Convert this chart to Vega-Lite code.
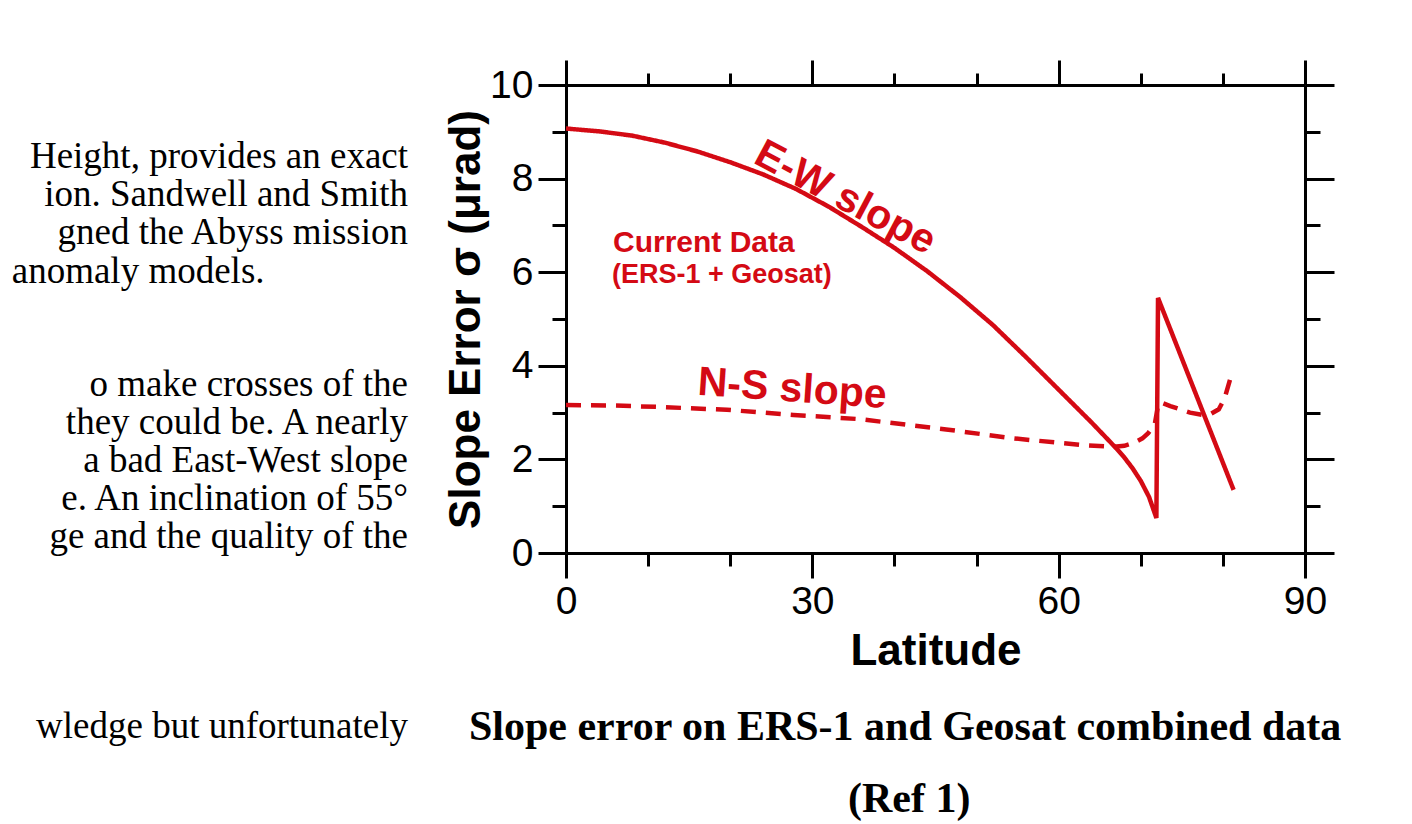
{
  "$schema": "https://vega.github.io/schema/vega-lite/v6.json",
  "width": 739,
  "height": 468,
  "autosize": {"type": "none"},
  "padding": {"left": 566, "top": 85, "right": 107, "bottom": 271},
  "background": "white",
  "config": {"view": {"stroke": null}, "font": "Liberation Sans"},
  "datasets": {
    "curves": [
      {"series": "E-W slope", "lat": 0, "err": 9.07},
      {"series": "E-W slope", "lat": 4, "err": 9.01},
      {"series": "E-W slope", "lat": 8, "err": 8.92},
      {"series": "E-W slope", "lat": 12, "err": 8.77},
      {"series": "E-W slope", "lat": 16, "err": 8.58},
      {"series": "E-W slope", "lat": 20, "err": 8.35},
      {"series": "E-W slope", "lat": 24, "err": 8.09},
      {"series": "E-W slope", "lat": 28, "err": 7.78},
      {"series": "E-W slope", "lat": 32, "err": 7.4},
      {"series": "E-W slope", "lat": 36, "err": 6.97},
      {"series": "E-W slope", "lat": 40, "err": 6.52},
      {"series": "E-W slope", "lat": 44, "err": 6.02},
      {"series": "E-W slope", "lat": 48, "err": 5.47},
      {"series": "E-W slope", "lat": 52, "err": 4.87},
      {"series": "E-W slope", "lat": 56, "err": 4.19},
      {"series": "E-W slope", "lat": 60, "err": 3.49},
      {"series": "E-W slope", "lat": 64, "err": 2.79},
      {"series": "E-W slope", "lat": 67, "err": 2.24},
      {"series": "E-W slope", "lat": 68, "err": 2.04},
      {"series": "E-W slope", "lat": 69, "err": 1.81},
      {"series": "E-W slope", "lat": 70, "err": 1.54},
      {"series": "E-W slope", "lat": 71, "err": 1.2},
      {"series": "E-W slope", "lat": 71.9, "err": 0.75},
      {"series": "E-W slope", "lat": 72.1, "err": 5.45},
      {"series": "E-W slope", "lat": 81.3, "err": 1.35},
      {"series": "N-S slope", "lat": 0, "err": 3.16},
      {"series": "N-S slope", "lat": 6, "err": 3.15},
      {"series": "N-S slope", "lat": 11.4, "err": 3.12},
      {"series": "N-S slope", "lat": 19.6, "err": 3.06},
      {"series": "N-S slope", "lat": 27.7, "err": 2.95},
      {"series": "N-S slope", "lat": 35.8, "err": 2.86},
      {"series": "N-S slope", "lat": 41.5, "err": 2.74},
      {"series": "N-S slope", "lat": 46.3, "err": 2.64},
      {"series": "N-S slope", "lat": 54.5, "err": 2.45},
      {"series": "N-S slope", "lat": 62.6, "err": 2.31},
      {"series": "N-S slope", "lat": 66.6, "err": 2.27},
      {"series": "N-S slope", "lat": 68, "err": 2.29},
      {"series": "N-S slope", "lat": 69.1, "err": 2.35},
      {"series": "N-S slope", "lat": 70.2, "err": 2.45},
      {"series": "N-S slope", "lat": 70.9, "err": 2.56},
      {"series": "N-S slope", "lat": 71.7, "err": 2.75},
      {"series": "N-S slope", "lat": 72.1, "err": 3.15},
      {"series": "N-S slope", "lat": 72.4, "err": 3.22},
      {"series": "N-S slope", "lat": 73.6, "err": 3.14},
      {"series": "N-S slope", "lat": 76, "err": 3.0},
      {"series": "N-S slope", "lat": 77.5, "err": 2.95},
      {"series": "N-S slope", "lat": 78.5, "err": 2.97},
      {"series": "N-S slope", "lat": 79.5, "err": 3.07},
      {"series": "N-S slope", "lat": 80.2, "err": 3.3},
      {"series": "N-S slope", "lat": 80.9, "err": 3.72}
    ],
    "notes": [
      {"lat": 22.65, "err": 8.35, "text": "E-W slope"},
      {"lat": 15.96, "err": 3.38, "text": "N-S slope"},
      {"lat": 5.72, "err": 6.43, "text": "Current Data"},
      {"lat": 5.6, "err": 5.76, "text": "(ERS-1 + Geosat)"}
    ],
    "body": [
      {"lat": -19.24, "err": 8.46, "text": "Height, provides an exact"},
      {"lat": -19.24, "err": 7.65, "text": "ion. Sandwell and Smith"},
      {"lat": -19.24, "err": 6.84, "text": "gned the Abyss mission"},
      {"lat": -19.24, "err": 3.59, "text": "o make crosses of the"},
      {"lat": -19.24, "err": 2.78, "text": "they could be. A nearly"},
      {"lat": -19.24, "err": 1.97, "text": "a bad East-West slope"},
      {"lat": -19.24, "err": 1.15, "text": "e. An inclination of 55°"},
      {"lat": -19.24, "err": 0.34, "text": "ge and the quality of the"},
      {"lat": -19.24, "err": -3.72, "text": "wledge but unfortunately"}
    ],
    "bodyLeft": [
      {"lat": -67.5, "err": 6.0, "text": "anomaly models."}
    ],
    "caption": [
      {"lat": 41.3, "err": -3.72, "text": "Slope error on ERS-1 and Geosat combined data"},
      {"lat": 41.8, "err": -5.26, "text": "(Ref 1)"}
    ]
  },
  "layer": [
    {
      "encoding": {
        "x": {
          "field": "lat",
          "type": "quantitative",
          "title": "Latitude",
          "scale": {"domain": [0, 90], "nice": false, "zero": false},
          "axis": {
            "orient": "bottom",
            "values": [0, 10, 20, 30, 40, 50, 60, 70, 80, 90],
            "labelExpr": "datum.value % 30 === 0 ? datum.label : ''",
            "tickSize": {"condition": {"test": "datum.value % 30 === 0", "value": 25}, "value": 13},
            "tickWidth": 3,
            "tickColor": "black",
            "domainWidth": 3,
            "domainColor": "black",
            "grid": false,
            "labelFont": "Liberation Sans",
            "labelFontSize": 39,
            "labelColor": "black",
            "labelPadding": 4,
            "labelFlush": false,
            "labelOverlap": false,
            "titleFont": "Liberation Sans",
            "titleFontSize": 44,
            "titleFontWeight": "bold",
            "titleColor": "black",
            "titlePadding": 8
          }
        },
        "y": {
          "field": "err",
          "type": "quantitative",
          "title": "Slope Error σ (μrad)",
          "scale": {"domain": [0, 10], "nice": false, "zero": false},
          "axis": {
            "orient": "left",
            "values": [0, 1, 2, 3, 4, 5, 6, 7, 8, 9, 10],
            "labelExpr": "datum.value % 2 === 0 ? datum.label : ''",
            "tickSize": {"condition": {"test": "datum.value % 2 === 0", "value": 28}, "value": 14},
            "tickWidth": 3,
            "tickColor": "black",
            "domainWidth": 3,
            "domainColor": "black",
            "grid": false,
            "labelFont": "Liberation Sans",
            "labelFontSize": 39,
            "labelColor": "black",
            "labelPadding": 5,
            "labelFlush": false,
            "labelOverlap": false,
            "titleFont": "Liberation Sans",
            "titleFontSize": 44,
            "titleFontWeight": "bold",
            "titleColor": "black",
            "titlePadding": 1
          }
        }
      },
      "layer": [
        {
          "data": {"name": "curves"},
          "mark": {"type": "line", "color": "#d40a14", "strokeWidth": 4.5, "strokeCap": "butt", "strokeJoin": "miter"},
          "encoding": {
            "detail": {"field": "series", "type": "nominal"},
            "strokeDash": {
              "field": "series",
              "type": "nominal",
              "scale": {"domain": ["E-W slope", "N-S slope"], "range": [[1, 0], [15, 10]]},
              "legend": null
            }
          }
        },
        {
          "data": {"name": "notes"},
          "transform": [{"filter": "datum.text === 'E-W slope'"}],
          "mark": {"type": "text", "align": "left", "baseline": "alphabetic", "angle": 28, "fontSize": 41, "fontWeight": "bold", "font": "Liberation Sans", "color": "#d40a14"},
          "encoding": {"text": {"field": "text"}}
        },
        {
          "data": {"name": "notes"},
          "transform": [{"filter": "datum.text === 'N-S slope'"}],
          "mark": {"type": "text", "align": "left", "baseline": "alphabetic", "angle": 4, "fontSize": 41, "fontWeight": "bold", "font": "Liberation Sans", "color": "#d40a14"},
          "encoding": {"text": {"field": "text"}}
        },
        {
          "data": {"name": "notes"},
          "transform": [{"filter": "datum.text === 'Current Data'"}],
          "mark": {"type": "text", "align": "left", "baseline": "alphabetic", "fontSize": 30, "fontWeight": "bold", "font": "Liberation Sans", "color": "#d40a14"},
          "encoding": {"text": {"field": "text"}}
        },
        {
          "data": {"name": "notes"},
          "transform": [{"filter": "datum.text === '(ERS-1 + Geosat)'"}],
          "mark": {"type": "text", "align": "left", "baseline": "alphabetic", "fontSize": 27, "fontWeight": "bold", "font": "Liberation Sans", "color": "#d40a14"},
          "encoding": {"text": {"field": "text"}}
        },
        {
          "data": {"name": "body"},
          "mark": {"type": "text", "align": "right", "baseline": "middle", "fontSize": 37, "font": "Liberation Serif", "color": "black"},
          "encoding": {"text": {"field": "text"}}
        },
        {
          "data": {"name": "bodyLeft"},
          "mark": {"type": "text", "align": "left", "baseline": "middle", "fontSize": 37, "font": "Liberation Serif", "color": "black"},
          "encoding": {"text": {"field": "text"}}
        },
        {
          "data": {"name": "caption"},
          "mark": {"type": "text", "align": "center", "baseline": "middle", "fontSize": 42, "fontWeight": "bold", "font": "Liberation Serif", "color": "black"},
          "encoding": {"text": {"field": "text"}}
        }
      ]
    },
    {
      "data": {"values": [{"lat": 0, "err": 0}]},
      "mark": {"type": "point", "opacity": 0},
      "encoding": {
        "x": {
          "field": "lat",
          "type": "quantitative",
          "scale": {"domain": [0, 90], "nice": false, "zero": false},
          "axis": {
            "orient": "top",
            "title": null,
            "values": [0, 10, 20, 30, 40, 50, 60, 70, 80, 90],
            "labels": false,
            "tickSize": {"condition": {"test": "datum.value % 30 === 0", "value": 25}, "value": 12},
            "tickWidth": 3,
            "tickColor": "black",
            "domainWidth": 3,
            "domainColor": "black",
            "grid": false
          }
        },
        "y": {
          "field": "err",
          "type": "quantitative",
          "scale": {"domain": [0, 10], "nice": false, "zero": false},
          "axis": {
            "orient": "right",
            "title": null,
            "values": [0, 1, 2, 3, 4, 5, 6, 7, 8, 9, 10],
            "labels": false,
            "tickSize": {"condition": {"test": "datum.value % 2 === 0", "value": 29}, "value": 15},
            "tickWidth": 3,
            "tickColor": "black",
            "domainWidth": 3,
            "domainColor": "black",
            "grid": false
          }
        }
      }
    }
  ],
  "resolve": {"scale": {"x": "independent", "y": "independent"}}
}
